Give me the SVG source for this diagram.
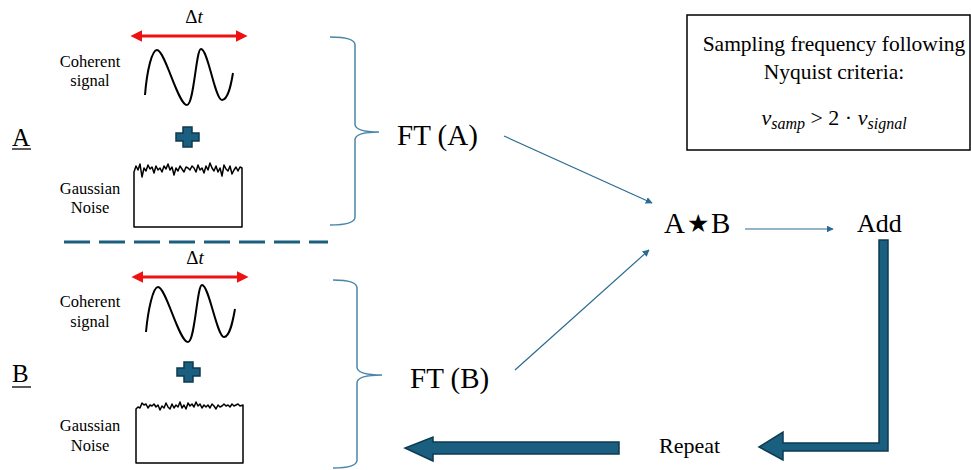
<svg xmlns="http://www.w3.org/2000/svg" width="971" height="470" viewBox="0 0 971 470">
<defs>
<style>
text{font-family:'Liberation Serif','DejaVu Serif','Times New Roman',serif;fill:#000}
.small{font-size:16.5px}
.brace{fill:none;stroke:#4a86a8;stroke-width:1.5}
.thin{fill:none;stroke:#2a6b90;stroke-width:1.2}
.wave{fill:none;stroke:#000;stroke-width:2}
.noise{fill:none;stroke:#000;stroke-width:1.5;stroke-linejoin:round}
.red{stroke:#ee1111;stroke-width:3;fill:none}
.big{fill:#1a5e80;stroke:#0e3a50;stroke-width:1.5;stroke-linejoin:miter}
</style>
<marker id="ah" viewBox="0 0 10 10" refX="9" refY="5" markerWidth="7" markerHeight="7" markerUnits="userSpaceOnUse" orient="auto">
<path d="M0,0 L10,5 L0,10 Z" fill="#2a6b90"/>
</marker>
<marker id="rh" viewBox="0 0 10 10" refX="2" refY="5" markerWidth="4" markerHeight="4" orient="auto-start-reverse">
<path d="M0,0 L10,5 L0,10 Z" fill="#ee1111"/>
</marker>
</defs>
<rect width="971" height="470" fill="#fff"/>

<g id="signalA">
<text x="194" y="23" font-size="19" text-anchor="middle" font-family="Liberation Serif, serif">Δ<tspan font-style="italic">t</tspan></text>
<line class="red" x1="140" y1="36" x2="238" y2="36" marker-start="url(#rh)" marker-end="url(#rh)"/>
<text class="small" x="90" y="67" text-anchor="middle" font-family="Liberation Serif, serif">Coherent</text>
<text class="small" x="90" y="86" text-anchor="middle" font-family="Liberation Serif, serif">signal</text>
<path class="wave" d="M145,95 C147,70 152,50 157,50 C165,50 178,105 187,105 C194,105 196,49 201,49 C208,49 215,100 222,100 C228,100 231,85 233,73"/>
</g>
<g id="plusA">
<path class="big" d="M183,127 h9 v6 h7 v8 h-7 v6 h-9 v-6 h-7 v-8 h7 z"/>
</g>
<g id="labelA">
<text x="12" y="146" font-size="25" font-family="Liberation Serif, serif">A</text>
<line x1="12" y1="149" x2="31" y2="149" stroke="#000" stroke-width="1.3"/>
</g>
<g id="noiseA">
<text class="small" x="90" y="194" text-anchor="middle" font-family="Liberation Serif, serif">Gaussian</text>
<text class="small" x="90" y="213" text-anchor="middle" font-family="Liberation Serif, serif">Noise</text>
<path class="noise" d="M134,227 L134,172 L136,166 L138,170 L140,164 L142,177 L144,168 L146,171 L148,165 L150,169 L152,167 L154,173 L156,166 L158,170 L160,168 L162,172 L164,166 L166,169 L168,164 L170,170 L172,167 L174,175 L176,168 L178,171 L180,166 L182,169 L184,172 L186,167 L188,168 L190,170 L192,166 L194,168 L196,172 L198,165 L200,170 L202,168 L204,173 L206,166 L208,170 L210,163 L212,168 L214,171 L216,166 L218,172 L220,168 L222,176 L224,165 L226,169 L228,171 L230,166 L232,174 L234,170 L236,167 L238,171 L240,167 L242,168 L242,227 Z"/>
</g>

<g id="separator">
<line x1="64" y1="242" x2="328" y2="242" stroke="#1a5e80" stroke-width="3" stroke-dasharray="26,9"/>
</g>

<g id="signalB">
<text x="195" y="264" font-size="19" text-anchor="middle" font-family="Liberation Serif, serif">Δ<tspan font-style="italic">t</tspan></text>
<line class="red" x1="141" y1="277" x2="239" y2="277" marker-start="url(#rh)" marker-end="url(#rh)"/>
<text class="small" x="90" y="307" text-anchor="middle" font-family="Liberation Serif, serif">Coherent</text>
<text class="small" x="90" y="327" text-anchor="middle" font-family="Liberation Serif, serif">signal</text>
<path class="wave" d="M146,332 C148,310 153,287 158,287 C166,287 179,342 188,342 C195,342 197,285 202,285 C209,285 217,337 224,337 C230,337 233,320 235,309"/>
</g>
<g id="plusB">
<path class="big" d="M184,362 h9 v6 h7 v8 h-7 v6 h-9 v-6 h-7 v-8 h7 z"/>
</g>
<g id="labelB">
<text x="12" y="382" font-size="25" font-family="Liberation Serif, serif">B</text>
<line x1="12" y1="387" x2="31" y2="387" stroke="#000" stroke-width="1.3"/>
</g>
<g id="noiseB">
<text class="small" x="90" y="431" text-anchor="middle" font-family="Liberation Serif, serif">Gaussian</text>
<text class="small" x="90" y="451" text-anchor="middle" font-family="Liberation Serif, serif">Noise</text>
<path class="noise" d="M136,463 L136,409 L138,407 L140,408 L142,403 L144,405 L146,404 L148,408 L150,405 L152,406 L154,404 L156,407 L158,405 L160,410 L162,406 L164,408 L166,403 L168,407 L170,409 L172,404 L174,408 L176,405 L178,407 L180,402 L182,408 L184,405 L186,409 L188,403 L190,406 L192,404 L194,407 L196,402 L198,406 L200,404 L202,408 L204,405 L206,407 L208,405 L210,408 L212,404 L214,406 L216,409 L218,405 L220,407 L222,406 L224,404 L226,406 L228,405 L230,407 L232,404 L234,406 L236,405 L238,404 L240,406 L243,405 L243,463 Z"/>
</g>

<g id="braceA">
<path class="brace" d="M330,37 Q355,37 355,45 L355,124 Q355,132 379,132 Q355,132 355,140 L355,217 Q355,225 330,225"/>
</g>
<g id="ftA">
<text x="397" y="145" font-size="29" font-family="Liberation Serif, serif">FT (A)</text>
</g>
<g id="braceB">
<path class="brace" d="M333,280 Q357,280 357,288 L357,367 Q357,375 382,375 Q357,375 357,383 L357,460 Q357,468 333,468"/>
</g>
<g id="ftB">
<text x="410" y="388" font-size="29" font-family="Liberation Serif, serif">FT (B)</text>
</g>

<g id="corr">
<text x="664" y="233" font-size="29" font-family="Liberation Serif, serif">A<tspan x="687" y="232" font-family="DejaVu Sans, sans-serif" font-size="25">★</tspan><tspan x="711" y="233">B</tspan></text>
</g>
<g id="add">
<text x="857" y="232" font-size="26" font-family="Liberation Serif, serif">Add</text>
</g>
<g id="repeat">
<text x="659" y="453" font-size="22" font-family="Liberation Serif, serif">Repeat</text>
</g>
<g id="nyquist">
<rect x="687" y="15" width="283" height="135" fill="none" stroke="#000" stroke-width="1.5"/>
<text x="834" y="51" font-size="21.5" text-anchor="middle" font-family="Liberation Serif, serif">Sampling frequency following</text>
<text x="834" y="79" font-size="21.5" text-anchor="middle" font-family="Liberation Serif, serif">Nyquist criteria:</text>
<text x="834" y="125" font-size="22" text-anchor="middle" font-family="Liberation Serif, serif"><tspan font-style="italic">ν</tspan><tspan font-style="italic" font-size="16" dy="4">samp</tspan><tspan dy="-4"> &gt; 2 · </tspan><tspan font-style="italic">ν</tspan><tspan font-style="italic" font-size="16" dy="4">signal</tspan></text>
</g>

<g id="connectors">
<line class="thin" x1="504" y1="136" x2="652" y2="203" marker-end="url(#ah)"/>
<line class="thin" x1="515" y1="370" x2="649" y2="250" marker-end="url(#ah)"/>
<line class="thin" x1="745" y1="229" x2="833" y2="229" marker-end="url(#ah)"/>
<polygon class="big" points="879,240 888,240 888,451 783,451 783,460 759,447 783,432 783,443 879,443"/>
<polygon class="big" points="619,442 619,454 433,454 433,461 405,448 433,437 433,442"/>
</g>
</svg>
